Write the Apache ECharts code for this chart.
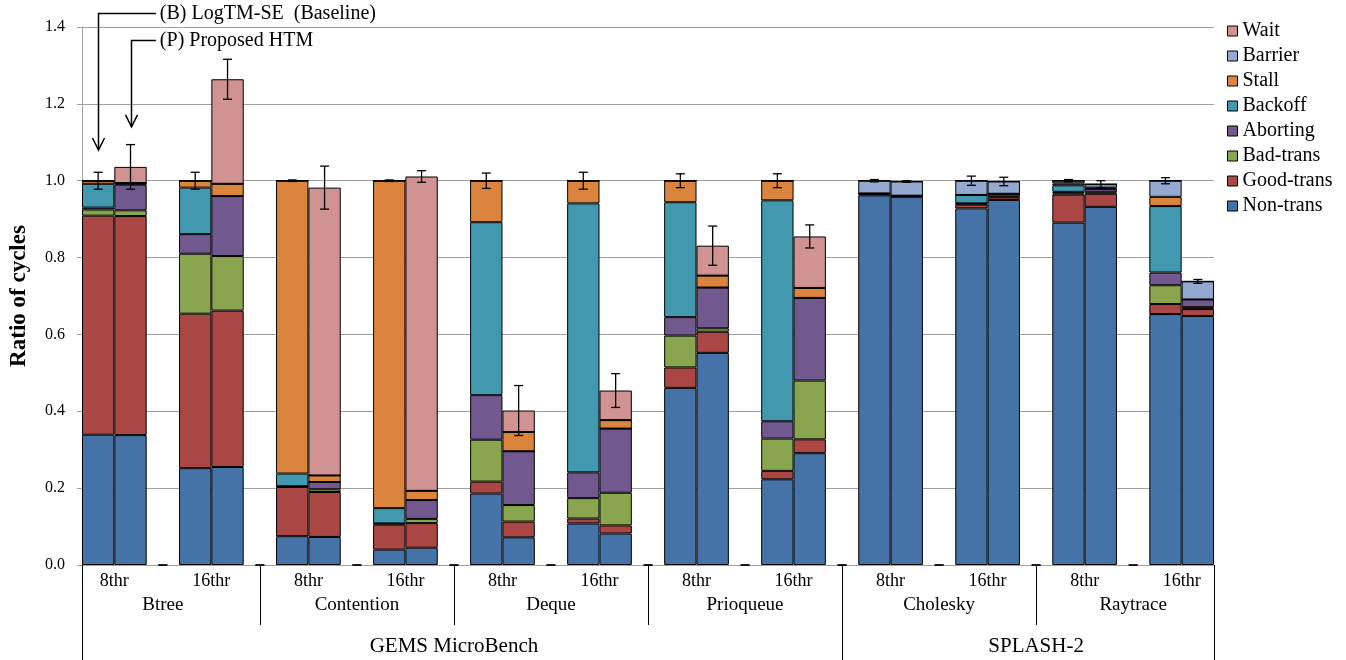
<!DOCTYPE html>
<html><head><meta charset="utf-8">
<script src="https://cdn.jsdelivr.net/npm/echarts@6/dist/echarts.min.js"></script>
<style>html,body{margin:0;padding:0;background:#fff}#c{width:1346px;height:660px}</style>
</head><body><div id="c"></div>
<script>
// ---- data (order per group: B = LogTM-SE, P = Proposed HTM) ----
const benchmarks = ['Btree','Contention','Deque','Prioqueue','Cholesky','Raytrace'];
const threads = ['8thr','16thr'];
const suites = ['GEMS MicroBench','SPLASH-2'];
const variants = ['B','P'];
const seriesNames = ['Non-trans','Good-trans','Bad-trans','Aborting','Backoff','Stall','Barrier','Wait'];
const seriesColors = ['#4572A7','#AA4643','#89A54E','#71588F','#4198AF','#DB843D','#93A9CF','#D19392'];
// 24 bars: Btree8 B,P | Btree16 B,P | Cont8 | Cont16 | Deque8 | Deque16 | Prio8 | Prio16 | Chol8 | Chol16 | Ray8 | Ray16
const nonTrans  = [0.339,0.338, 0.252,0.255, 0.075,0.073, 0.040,0.045, 0.186,0.072, 0.108,0.082, 0.461,0.552, 0.223,0.291, 0.962,0.958, 0.928,0.950, 0.891,0.932, 0.653,0.648];
const goodTrans = [0.570,0.570, 0.402,0.407, 0.128,0.117, 0.065,0.064, 0.031,0.041, 0.013,0.021, 0.053,0.055, 0.022,0.036, 0.003,0.002, 0.010,0.007, 0.073,0.034, 0.026,0.018];
const badTrans  = [0.016,0.015, 0.156,0.142, 0.002,0.007, 0.003,0.011, 0.109,0.043, 0.053,0.085, 0.083,0.009, 0.084,0.153, 0.001,0.000, 0.002,0.002, 0.003,0.004, 0.049,0.005];
const aborting  = [0.005,0.067, 0.051,0.156, 0.000,0.019, 0.000,0.049, 0.116,0.140, 0.067,0.167, 0.048,0.106, 0.045,0.215, 0.001,0.001, 0.001,0.007, 0.004,0.008, 0.033,0.020];
const backoff   = [0.062,0.002, 0.121,0.000, 0.033,0.000, 0.040,0.000, 0.450,0.000, 0.700,0.000, 0.299,0.000, 0.575,0.000, 0.000,0.000, 0.022,0.000, 0.017,0.002, 0.173,0.000];
const stall     = [0.008,0.002, 0.018,0.032, 0.762,0.017, 0.852,0.024, 0.108,0.050, 0.059,0.022, 0.056,0.031, 0.051,0.026, 0.000,0.000, 0.000,0.000, 0.005,0.002, 0.024,0.000];
const barrier   = [0.000,0.000, 0.000,0.000, 0.000,0.000, 0.000,0.000, 0.000,0.000, 0.000,0.000, 0.000,0.000, 0.000,0.000, 0.033,0.037, 0.037,0.032, 0.007,0.009, 0.042,0.047];
const wait      = [0.000,0.042, 0.000,0.272, 0.000,0.749, 0.000,0.818, 0.000,0.056, 0.000,0.077, 0.000,0.078, 0.000,0.134, 0.000,0.000, 0.000,0.000, 0.000,0.000, 0.000,0.000];
const errors    = [0.022,0.058, 0.022,0.052, 0.002,0.056, 0.002,0.015, 0.020,0.065, 0.022,0.044, 0.018,0.051, 0.018,0.030, 0.003,0.002, 0.012,0.011, 0.003,0.009, 0.008,0.005];
const annotations = [
  {text:'(B) LogTM-SE  (Baseline)', bar:0, textY:1.436, tipY:1.08},
  {text:'(P) Proposed HTM',         bar:1, textY:1.366, tipY:1.14}
];

// ---- build slot layout: per group 2 bars + 1 gap slot ----
const seriesData = [nonTrans, goodTrans, badTrans, aborting, backoff, stall, barrier, wait];
const nGroups = benchmarks.length * threads.length;
const nSlots = nGroups * 3 - 1;
const slotCats = [];
const barSlot = [];
for (let g = 0; g < nGroups; g++) {
  const b = benchmarks[Math.floor(g / 2)], t = threads[g % 2];
  variants.forEach((v) => { barSlot.push(slotCats.length); slotCats.push(b + ' ' + t + ' ' + v); });
  if (g < nGroups - 1) slotCats.push(b + ' ' + t + ' gap');
}
function toSlots(arr) {
  const out = new Array(nSlots).fill('-');
  arr.forEach((v, i) => { out[barSlot[i]] = v; });
  return out;
}
// error bar data (gap slots draw a zero cap like the original)
const errData = [];
for (let s = 0; s < nSlots; s++) {
  const i = barSlot.indexOf(s);
  if (i >= 0) {
    let tot = 0; seriesData.forEach(a => tot += a[i]);
    errData.push([s, tot, errors[i]]);
  } else errData.push([s, 0, 0]);
}
// half-slot label axes (71 points across the plot)
const nHalf = nSlots * 2 + 1;
const threadAxis = new Array(nHalf).fill('');
for (let g = 0; g < nGroups; g++) threadAxis[6 * g + 2] = threads[g % 2];
const benchAxis = new Array(nHalf).fill('');
benchmarks.forEach((b, k) => benchAxis[12 * k + 5] = b);
const suiteAxis = new Array(nHalf).fill('');
suiteAxis[23] = suites[0]; suiteAxis[59] = suites[1];
const shortSep = [11, 23, 35, 59];
const longSep = [0, 47, 70];

const FONT = 'Liberation Serif';
const chart = echarts.init(document.getElementById('c'), null, {renderer: 'canvas'});

const series = seriesNames.map((n, k) => ({
  name: n, type: 'bar', stack: 'all', xAxisIndex: 0, yAxisIndex: 0,
  barGap: '0%', barCategoryGap: '0%',
  itemStyle: {color: seriesColors[k], borderColor: '#000', borderWidth: 1},
  emphasis: {disabled: true},
  data: toSlots(seriesData[k])
}));
series.push({
  type: 'custom', name: 'err', xAxisIndex: 0, yAxisIndex: 0, z: 10,
  encode: {x: 0, y: 1},
  data: errData,
  renderItem: function (params, api) {
    const x = api.value(0), top = api.value(1), e = api.value(2);
    const hi = api.coord([x, top + e]), lo = api.coord([x, top - e]);
    const hw = 4.5, st = {stroke: '#000', lineWidth: 1.3};
    return {type: 'group', children: [
      {type: 'line', shape: {x1: hi[0], y1: hi[1], x2: lo[0], y2: lo[1]}, style: st},
      {type: 'line', shape: {x1: hi[0] - hw, y1: hi[1], x2: hi[0] + hw, y2: hi[1]}, style: st},
      {type: 'line', shape: {x1: lo[0] - hw, y1: lo[1], x2: lo[0] + hw, y2: lo[1]}, style: st}
    ]};
  }
});

function halfAxis(data, opts) {
  return Object.assign({
    type: 'category', position: 'bottom', gridIndex: 0, boundaryGap: false, data: data,
    axisLine: {show: false}, splitLine: {show: false},
    axisTick: {show: false},
    axisLabel: {show: true, interval: 0, color: '#000', fontFamily: FONT, fontSize: 15}
  }, opts);
}

chart.setOption({
  animation: false,
  textStyle: {fontFamily: FONT},
  grid: {left: 80, right: 132, top: 27, bottom: 95, containLabel: false},
  legend: {
    orient: 'vertical', left: 1227, top: 21, padding: 0, itemWidth: 10, itemHeight: 10, itemGap: 5,
    icon: 'rect',
    data: seriesNames.slice().reverse(),
    itemStyle: {borderColor: '#000', borderWidth: 1},
    textStyle: {fontFamily: FONT, fontSize: 20, color: '#000'}
  },
  xAxis: [
    {type: 'category', data: slotCats, position: 'bottom', boundaryGap: true,
     axisLine: {show: true, lineStyle: {color: '#a0a0a0', width: 1}},
     axisTick: {show: false}, axisLabel: {show: false}, splitLine: {show: false}},
    halfAxis(threadAxis, {
      axisTick: {show: true, length: 60, interval: (i) => shortSep.indexOf(i) >= 0, lineStyle: {color: '#000', width: 1}},
      axisLabel: {show: true, interval: 0, margin: 7, color: '#000', fontFamily: FONT, fontSize: 18}
    }),
    halfAxis(benchAxis, {
      axisTick: {show: true, length: 95, interval: (i) => longSep.indexOf(i) >= 0, lineStyle: {color: '#000', width: 1}},
      axisLabel: {show: true, interval: 0, margin: 31, color: '#000', fontFamily: FONT, fontSize: 19}
    }),
    halfAxis(suiteAxis, {
      axisLabel: {show: true, interval: 0, margin: 71, color: '#000', fontFamily: FONT, fontSize: 21}
    })
  ],
  yAxis: {
    type: 'value', min: 0, max: 1.4, interval: 0.2,
    name: 'Ratio of cycles', nameLocation: 'middle', nameGap: 51,
    nameTextStyle: {fontFamily: FONT, fontSize: 23, fontWeight: 'bold', color: '#000'},
    axisLine: {show: true, lineStyle: {color: '#a0a0a0'}},
    axisTick: {show: true, length: 5, lineStyle: {color: '#a0a0a0'}},
    axisLabel: {formatter: v => v.toFixed(1), margin: 17, color: '#000', fontFamily: FONT, fontSize: 16},
    splitLine: {show: true, lineStyle: {color: '#a0a0a0', width: 1}}
  },
  series: series
});

// ---- annotation arrows positioned through the chart's own scales ----
const gfx = [];
annotations.forEach(a => {
  const s = barSlot[a.bar];
  const t = chart.convertToPixel({xAxisIndex: 0, yAxisIndex: 0}, [s, a.textY]);
  const tip = chart.convertToPixel({xAxisIndex: 0, yAxisIndex: 0}, [s, a.tipY]);
  const lab = chart.convertToPixel({xAxisIndex: 0, yAxisIndex: 0}, [barSlot[0] + 2, a.textY]);
  const x = Math.round(t[0]) + 0.5, y = Math.round(t[1]) + 0.5;
  const tx = lab[0] - 3;
  gfx.push({type: 'polyline', shape: {points: [[tx - 4, y], [x, y], [x, tip[1]]]}, style: {stroke: '#000', lineWidth: 1.5, fill: null}, z: 20});
  gfx.push({type: 'polyline', shape: {points: [[x - 6, tip[1] - 12], [x, tip[1]], [x + 6, tip[1] - 12]]}, style: {stroke: '#000', lineWidth: 1.5, fill: null}, z: 20});
  gfx.push({type: 'text', x: tx, y: y, style: {text: a.text, fontFamily: FONT, fontSize: 20, fill: '#000', verticalAlign: 'middle'}, z: 20});
});
chart.setOption({graphic: gfx});
</script>
</body></html>
